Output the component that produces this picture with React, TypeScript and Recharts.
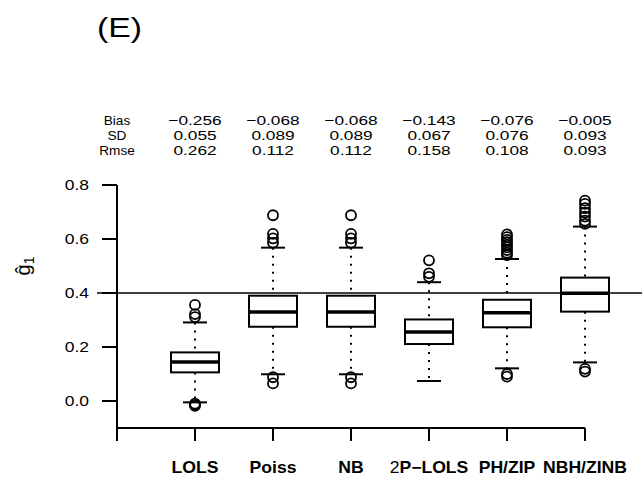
import React from 'react'
import { ComposedChart, Bar, Scatter, XAxis, YAxis, ReferenceLine } from 'recharts'

const methods = ['LOLS', 'Poiss', 'NB', '2P−LOLS', 'PH/ZIP', 'NBH/ZINB']
const statLabels = ['Bias', 'SD', 'Rmse']
const bias = ['−0.256', '−0.068', '−0.068', '−0.143', '−0.076', '−0.005']
const sd = ['0.055', '0.089', '0.089', '0.067', '0.076', '0.093']
const rmse = ['0.262', '0.112', '0.112', '0.158', '0.108', '0.093']

const lowerWhisker = [-0.005, 0.099, 0.099, 0.074, 0.121, 0.143]
const q1 = [0.106, 0.275, 0.275, 0.211, 0.273, 0.331]
const median = [0.144, 0.33, 0.33, 0.256, 0.327, 0.399]
const q3 = [0.18, 0.39, 0.39, 0.302, 0.375, 0.457]
const upperWhisker = [0.291, 0.568, 0.568, 0.44, 0.526, 0.646]

const outliers = [
  [0.356, 0.322, 0.311, -0.01, -0.014, -0.018],
  [0.688, 0.619, 0.602, 0.586, 0.088, 0.065],
  [0.688, 0.619, 0.602, 0.586, 0.088, 0.065],
  [0.521, 0.473, 0.46],
  [0.617, 0.607, 0.597, 0.588, 0.578, 0.569, 0.559, 0.549, 0.54, 0.1, 0.09],
  [0.742, 0.73, 0.714, 0.698, 0.683, 0.668, 0.656, 0.119, 0.109],
]

const trueValue = 0.4
const yTicks = [0, 0.2, 0.4, 0.6, 0.8]
const xTicks = [0, 1, 2, 3, 4, 5, 6]

const boxData = methods.map((name, i) => ({
  x: i + 1,
  name,
  range: [lowerWhisker[i], upperWhisker[i]],
  q1: q1[i],
  med: median[i],
  q3: q3[i],
}))

const outlierData = outliers.flatMap((vals, i) => vals.map((v) => ({ x: i + 1, y: v })))

const FONT = '"Liberation Sans", Arial, sans-serif'

// whole box drawn from the bar's own pixel range
const BoxShape = (props: any) => {
  const { x, y, width, height, payload } = props
  const top = Math.min(y, y + height)
  const h = Math.abs(height)
  const [lo, hi] = payload.range
  const ppu = h / (hi - lo)
  const py = (v: number) => top + (hi - v) * ppu
  const cx = x + width / 2
  const cap = width / 4
  return (
    <g>
      <line x1={cx} x2={cx} y1={py(hi)} y2={py(payload.q3)} stroke="#000" strokeWidth={2} strokeDasharray="2 6" />
      <line x1={cx} x2={cx} y1={py(payload.q1)} y2={py(lo)} stroke="#000" strokeWidth={2} strokeDasharray="2 6" />
      <line x1={cx - cap} x2={cx + cap} y1={py(hi)} y2={py(hi)} stroke="#000" strokeWidth={2} />
      <line x1={cx - cap} x2={cx + cap} y1={py(lo)} y2={py(lo)} stroke="#000" strokeWidth={2} />
      <rect x={x} y={py(payload.q3)} width={width} height={py(payload.q1) - py(payload.q3)} fill="none" stroke="#000" strokeWidth={2} />
      <line x1={x - 1} x2={x + width + 1} y1={py(payload.med)} y2={py(payload.med)} stroke="#000" strokeWidth={3.5} />
    </g>
  )
}

const OutlierDot = (props: any) => (
  <circle cx={props.cx} cy={props.cy} r={5} fill="none" stroke="#000" strokeWidth={1.8} />
)

const YTick = ({ x, y, payload }: any) => (
  <text transform={`translate(${x},${y}) scale(1.25,1)`} textAnchor="end" dy="0.355em" fontSize={14} fontFamily={FONT} fill="#000">
    {payload.value.toFixed(1)}
  </text>
)

// method label below the axis, summary numbers above the plot, same x position
const XTick = ({ x, y, payload }: any) => {
  const i = payload.value
  const label = i > 0 ? methods[i - 1] : ''
  const lead = /^\d/.test(label) ? label[0] : ''
  const rows = i === 0 ? statLabels : [bias[i - 1], sd[i - 1], rmse[i - 1]]
  const offsets = [-318, -303.5, -288.5]
  const sx = i === 0 ? 1.05 : 1.33
  return (
    <g>
      {rows.map((r, k) => (
        <text key={k} transform={`translate(${x},${y + offsets[k]}) scale(${sx},1)`} textAnchor="middle" fontSize={13} fontFamily={FONT} fill="#000">
          {r}
        </text>
      ))}
      {label && (
        <text transform={`translate(${x},${y + 30}) scale(1.1,1)`} textAnchor="middle" fontSize={16} fontWeight="bold" fontFamily={FONT} fill="#000">
          {lead && <tspan fontWeight="normal">{lead}</tspan>}
          {label.slice(lead.length)}
        </text>
      )}
    </g>
  )
}

export default function App() {
  return (
    <div style={{ position: 'absolute', left: 0, top: 0, width: 642, height: 477, background: '#fff' }}>
      <ComposedChart width={642} height={477} data={boxData} margin={{ top: 185, right: 57, bottom: 0, left: 0 }}>
        <XAxis
          dataKey="x"
          type="number"
          domain={[0, 6]}
          ticks={xTicks}
          interval={0}
          height={49}
          tickSize={13}
          tickMargin={2}
          axisLine={{ stroke: '#000', strokeWidth: 2 }}
          tickLine={{ stroke: '#000', strokeWidth: 2 }}
          tick={<XTick />}
        />
        <YAxis
          type="number"
          domain={[-0.1, 0.8]}
          ticks={yTicks}
          interval={0}
          width={117}
          tickSize={15}
          tickMargin={13}
          axisLine={{ stroke: '#000', strokeWidth: 2 }}
          tickLine={{ stroke: '#000', strokeWidth: 2 }}
          tick={<YTick />}
        />
        <ReferenceLine
          segment={[{ x: -0.256, y: trueValue }, { x: 6.73, y: trueValue }]}
          ifOverflow="visible"
          stroke="#000"
          strokeWidth={1.6}
        />
        <Bar dataKey="range" barSize={48} shape={<BoxShape />} isAnimationActive={false} />
        <Scatter data={outlierData} dataKey="y" shape={<OutlierDot />} isAnimationActive={false} />
      </ComposedChart>
      <svg width={642} height={477} style={{ position: 'absolute', left: 0, top: 0, pointerEvents: 'none' }}>
        <text transform="translate(97,37) scale(1.25,1)" fontSize={27} fontFamily={FONT} fill="#000">(E)</text>
        <g transform="translate(30,266) rotate(-90)">
          <text x={0} y={0} textAnchor="middle" fontSize={20} fontFamily={FONT} fill="#000">
            ĝ<tspan fontSize={14} dy={4}>1</tspan>
          </text>
        </g>
      </svg>
    </div>
  )
}
